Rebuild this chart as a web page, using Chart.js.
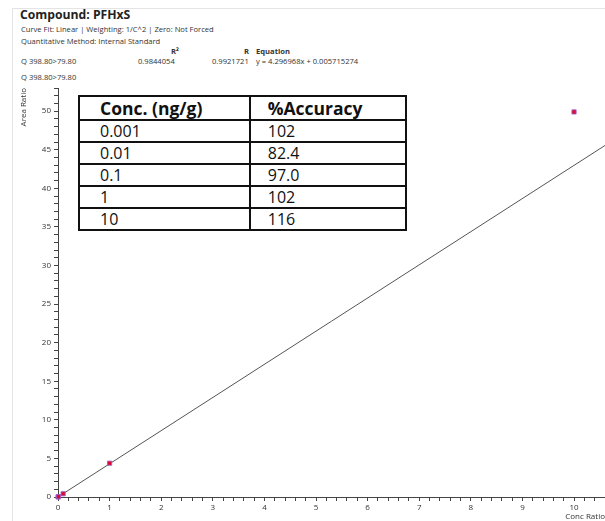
<!DOCTYPE html>
<html lang="en">
<head>
  <meta charset="UTF-8">
  <title>PFHxS Calibration Curve</title>
  <script src="https://cdn.jsdelivr.net/npm/chart.js"></script>
  <style>
    body { margin: 0; width: 605px; height: 521px; position: relative; overflow: hidden; background: #fff; font-family: "Open Sans", sans-serif; color: #333; }
    .panel { position: absolute; left: 12px; top: 8px; right: 0; bottom: 0; border-left: 1px solid #e4e4e4; border-top: 1px solid #e4e4e4; }
    .t { position: absolute; white-space: nowrap; font-size: 7.6px; line-height: 1; }
    .title { font-size: 12.2px; font-weight: bold; color: #222; }
    #chartWrap { position: absolute; left: 0; top: 0; width: 605px; height: 521px; }
    table.acc { position: absolute; left: 78px; top: 95px; width: 329px; border-collapse: collapse; background: #fff; font-size: 16px; color: #111; }
    table.acc td { border: 2px solid #111; padding: 0 0 0 20px; height: 20px; line-height: 20px; }
    table.acc td + td { padding-left: 17px; }
    table.acc tr.head td { font-weight: bold; font-size: 17.5px; height: 22px; line-height: 22px; }
  </style>
</head>
<body>
<div class="panel"></div>

<div class="t title" style="left:20px; top:9px;">Compound: PFHxS</div>
<div class="t" style="left:21px; top:26px;">Curve Fit: Linear | Weighting: 1/C^2 | Zero: Not Forced</div>
<div class="t" style="left:21px; top:38px;">Quantitative Method: Internal Standard</div>
<div class="t" style="left:171px; top:48px; font-weight:bold;">R²</div>
<div class="t" style="left:244px; top:48px; font-weight:bold;">R</div>
<div class="t" style="left:256px; top:48px; font-weight:bold;">Equation</div>
<div class="t" style="left:21px; top:58px;">Q 398.80&gt;79.80</div>
<div class="t" style="left:138px; top:58px;">0.9844054</div>
<div class="t" style="left:212px; top:58px;">0.9921721</div>
<div class="t" style="left:256px; top:58px;">y = 4.296968x + 0.005715274</div>
<div class="t" style="left:21px; top:74px;">Q 398.80&gt;79.80</div>

<div id="chartWrap"><canvas id="curve" width="605" height="521"></canvas></div>

<table class="acc" id="accTable"></table>

<script>
  // calibration points (conc ratio vs area ratio)
  const concRatio = [0.001, 0.01, 0.1, 1, 10];
  const areaRatio = [0.01, 0.04, 0.42, 4.38, 49.9];

  // fitted line from the equation shown in the header
  const slope = 4.296968;
  const intercept = 0.005715274;
  const fitX = [0, 10.6];

  // accuracy table
  const concLabels = ['0.001', '0.01', '0.1', '1', '10'];
  const accuracy = ['102', '82.4', '97.0', '102', '116'];

  const table = document.getElementById('accTable');
  let html = '<tr class="head"><td>Conc. (ng/g)</td><td>%Accuracy</td></tr>';
  concLabels.forEach((c, i) => {
    html += '<tr><td>' + c + '</td><td>' + accuracy[i] + '</td></tr>';
  });
  table.innerHTML = html;

  const tickFont = { family: 'Open Sans', size: 8 };
  const isWhole = (v, step) => Math.abs(v / step - Math.round(v / step)) < 1e-6;

  new Chart(document.getElementById('curve'), {
    type: 'scatter',
    data: {
      datasets: [
        {
          label: 'points',
          data: concRatio.map((x, i) => ({ x: x, y: areaRatio[i] })),
          pointStyle: 'rect',
          pointRadius: 3,
          backgroundColor: '#dc0c30',
          borderColor: '#9466dc',
          borderWidth: 0.8,
          clip: false,
          order: 0
        },
        {
          label: 'fit',
          data: fitX.map(x => ({ x: x, y: slope * x + intercept })),
          showLine: true,
          borderColor: '#555',
          borderWidth: 1,
          pointRadius: 0,
          order: 1
        }
      ]
    },
    options: {
      responsive: false,
      animation: false,
      layout: { autoPadding: false, padding: { top: 88, left: 0, right: 0, bottom: 0 } },
      plugins: { legend: { display: false }, tooltip: { enabled: false } },
      scales: {
        x: {
          type: 'linear',
          min: 0,
          max: 10.6,
          afterFit: s => { s.height = 24; s.paddingRight = 0; s.paddingLeft = 0; },
          ticks: {
            stepSize: 0.2,
            autoSkip: false,
            maxRotation: 0,
            padding: 2,
            font: tickFont,
            color: '#333',
            callback: v => isWhole(v, 1) ? Math.round(v) : ''
          },
          grid: { drawOnChartArea: false, tickLength: 4, tickColor: '#444' },
          border: { color: '#444' },
          title: { display: true, text: 'Conc Ratio', align: 'end', font: tickFont, color: '#333', padding: { top: 0, bottom: -1 } }
        },
        y: {
          min: 0,
          max: 53,
          afterFit: s => { s.width = 58; s.paddingTop = 0; s.paddingBottom = 0; },
          ticks: {
            stepSize: 1,
            autoSkip: false,
            padding: 3,
            font: tickFont,
            color: '#333',
            callback: v => isWhole(v, 5) ? Math.round(v) : ''
          },
          grid: { drawOnChartArea: false, tickLength: 4, tickColor: '#444' },
          border: { color: '#444' },
          title: { display: true, text: 'Area Ratio', align: 'end', font: tickFont, color: '#333', padding: { top: 19, bottom: 0 } }
        }
      }
    }
  });
</script>
</body>
</html>
